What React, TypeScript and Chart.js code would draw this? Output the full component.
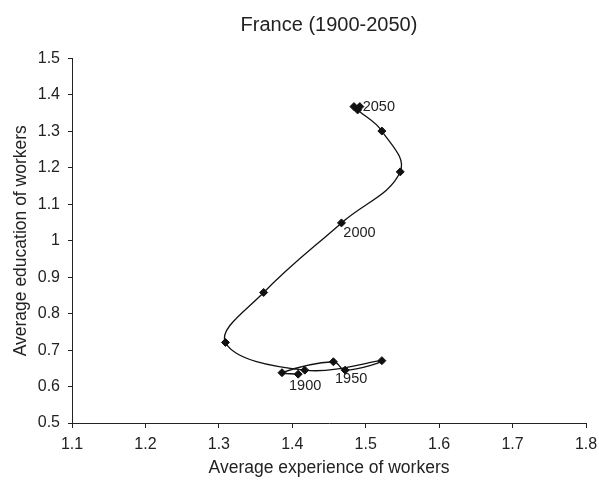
import React, { useEffect, useRef } from 'react';
import { Chart, registerables } from 'chart.js';

Chart.register(...registerables);

// ---- data ----
const experience = [1.408, 1.386, 1.456, 1.472, 1.522, 1.417, 1.309, 1.361, 1.467, 1.547, 1.522, 1.489, 1.484, 1.492];
const education = [0.634, 0.638, 0.668, 0.645, 0.671, 0.645, 0.721, 0.858, 1.049, 1.189, 1.301, 1.359, 1.368, 1.368];
const pointYears = ['1900', '', '', '1950', '', '', '', '', '2000', '', '', '', '', '2050'];

const xTickValues = [1.1, 1.2, 1.3, 1.4, 1.5, 1.6, 1.7, 1.8];
const yTickValues = [0.5, 0.6, 0.7, 0.8, 0.9, 1.0, 1.1, 1.2, 1.3, 1.4, 1.5];

const chartTitle = 'France (1900-2050)';
const xTitle = 'Average experience of workers';
const yTitle = 'Average education of workers';

// ---- styling ----
const FONT = '"Liberation Sans", Arial, Helvetica, sans-serif';
const INK = '#222222';
const labelOffsets: Record<string, [number, number]> = {
  '1900': [7, 12],
  '1950': [6, 9],
  '2000': [18, 10],
  '2050': [19, 0],
};

const yearLabelsPlugin = {
  id: 'yearLabels',
  afterDatasetsDraw(chart: any) {
    const meta = chart.getDatasetMeta(0);
    const ctx = chart.ctx;
    ctx.save();
    ctx.font = `14.5px ${FONT}`;
    ctx.fillStyle = INK;
    ctx.textAlign = 'center';
    ctx.textBaseline = 'middle';
    meta.data.forEach((el: any, i: number) => {
      const t = pointYears[i];
      if (!t) return;
      const [dx, dy] = labelOffsets[t] || [0, 0];
      ctx.fillText(t, el.x + dx, el.y + dy);
    });
    ctx.restore();
  },
};

const fmt = (v: any) => String(Math.round(Number(v) * 10) / 10);

export default function App() {
  const ref = useRef<HTMLCanvasElement | null>(null);

  useEffect(() => {
    if (!ref.current) return;
    const points = experience.map((x, i) => ({ x, y: education[i] }));
    const chart = new Chart(ref.current, {
      type: 'scatter',
      data: {
        datasets: [
          {
            data: points,
            showLine: true,
            tension: 0.4,
            borderColor: '#111111',
            borderWidth: 1.3,
            pointStyle: 'rectRot',
            pointRadius: 4,
            pointBackgroundColor: '#111111',
            pointBorderColor: '#111111',
            pointBorderWidth: 1,
          },
        ],
      },
      options: {
        responsive: false,
        animation: false,
        layout: { padding: { left: 0, right: 0, top: 0, bottom: 0 } },
        plugins: {
          legend: { display: false },
          tooltip: { enabled: false },
          title: {
            display: true,
            text: chartTitle,
            fullSize: false,
            color: INK,
            font: { family: FONT, size: 20, weight: 'normal', lineHeight: 1.2 },
            padding: { top: 13, bottom: 21.5 },
          },
        },
        scales: {
          x: {
            type: 'linear',
            min: 1.1,
            max: 1.8,
            afterBuildTicks: (s: any) => {
              s.ticks = xTickValues.map((v) => ({ value: v }));
            },
            afterFit: (s: any) => {
              s.height = 57;
              s.paddingRight = 13;
            },
            ticks: {
              callback: fmt,
              color: INK,
              font: { family: FONT, size: 16 },
              padding: 7,
              maxRotation: 0,
              autoSkip: false,
            },
            grid: { drawOnChartArea: false, drawTicks: true, tickLength: 5, color: INK, lineWidth: 1 },
            border: { display: true, color: INK, width: 1 },
            title: {
              display: true,
              text: xTitle,
              color: INK,
              font: { family: FONT, size: 17.5, lineHeight: 1 },
              padding: { top: 0, bottom: 3 },
            },
          },
          y: {
            type: 'linear',
            min: 0.5,
            max: 1.5,
            afterBuildTicks: (s: any) => {
              s.ticks = yTickValues.map((v) => ({ value: v }));
            },
            afterFit: (s: any) => {
              s.width = 72;
            },
            ticks: {
              callback: fmt,
              color: INK,
              font: { family: FONT, size: 16 },
              padding: 8,
              autoSkip: false,
            },
            grid: { drawOnChartArea: false, drawTicks: true, tickLength: 4, color: INK, lineWidth: 1 },
            border: { display: true, color: INK, width: 1 },
            title: {
              display: true,
              text: yTitle,
              color: INK,
              font: { family: FONT, size: 17.5, lineHeight: 1 },
              padding: { top: 12.5, bottom: 0 },
            },
          },
        },
      } as any,
      plugins: [yearLabelsPlugin],
    });
    return () => chart.destroy();
  }, []);

  return (
    <div style={{ position: 'absolute', left: 0, top: 0, width: 599, height: 480, background: '#fff' }}>
      <canvas ref={ref} width={599} height={480} style={{ display: 'block' }} />
    </div>
  );
}
